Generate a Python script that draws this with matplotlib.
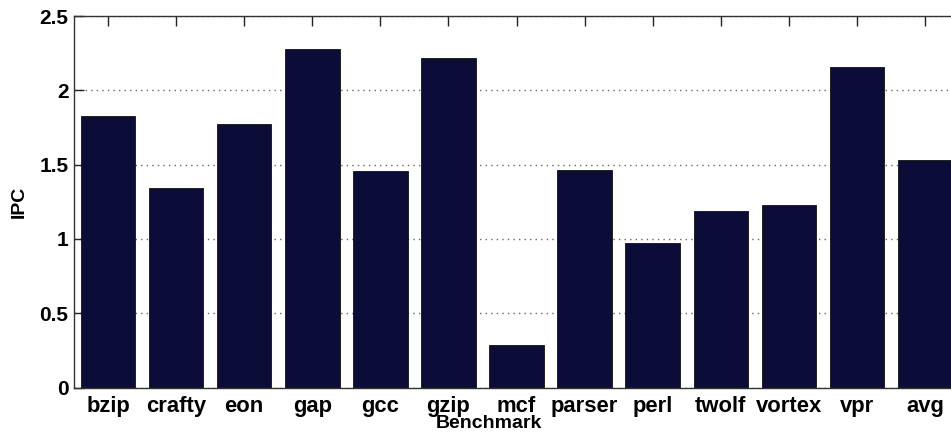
import matplotlib
matplotlib.use('Agg')
import matplotlib.pyplot as plt
import numpy as np

plt.rcParams['font.family'] = ['Liberation Sans', 'DejaVu Sans']
plt.rcParams['font.weight'] = 'bold'

# IPC per benchmark
benchmarks = ['bzip', 'crafty', 'eon', 'gap', 'gcc', 'gzip', 'mcf',
              'parser', 'perl', 'twolf', 'vortex', 'vpr', 'avg']
ipc = [1.83, 1.345, 1.775, 2.275, 1.46, 2.22, 0.285,
       1.465, 0.975, 1.185, 1.23, 2.16, 1.53]
yticks = [0, 0.5, 1, 1.5, 2, 2.5]
yticklabels = ['0', '0.5', '1', '1.5', '2', '2.5']

fig = plt.figure(figsize=(9.51, 4.37), dpi=100)
# axes runs a bit past the right edge, like the cropped original
ax = fig.add_axes([74/951, 49.5/437, 885/951, 371.5/437])

x = np.arange(1, len(benchmarks) + 1)
ax.bar(x, ipc, width=0.8, color='#0b0c38', edgecolor='#111111', linewidth=0.6, zorder=2)

ax.set_xlim(0.5, len(benchmarks) + 0.5)
ax.set_ylim(0, 2.5)
ax.set_xticks(x)
ax.set_xticklabels(benchmarks, fontsize=15.8, fontweight='bold')
ax.set_yticks(yticks)
ax.set_yticklabels(yticklabels, fontsize=15, fontweight='bold')

ax.yaxis.grid(True, linestyle=(0, (1, 3)), color='#666666', linewidth=1.0)
ax.set_axisbelow(True)

ax.tick_params(axis='both', direction='in', length=7, width=1, colors='#222222',
               labelcolor='black')
ax.tick_params(axis='x', top=True, bottom=False, pad=6)
ax.tick_params(axis='y', left=True, right=False, pad=4)

for s in ax.spines.values():
    s.set_linewidth(1.0)
    s.set_color('#333333')

ax.set_ylabel('IPC', fontsize=14, fontweight='bold', labelpad=8)
ax.set_xlabel('Benchmark', fontsize=14, fontweight='bold')
ax.xaxis.set_label_coords(0.469, -0.075)

fig.savefig('out.png', dpi=100)
